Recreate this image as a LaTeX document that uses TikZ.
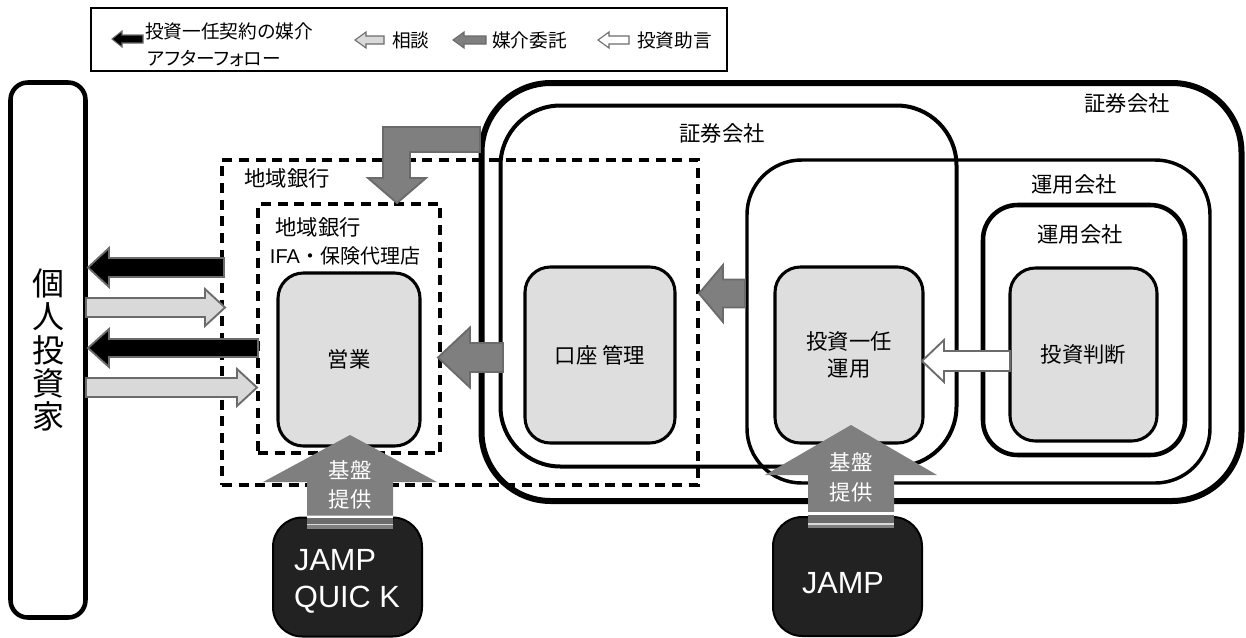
\documentclass[tikz,border=0pt]{standalone}
\usepackage{fontspec}
\setmainfont{Noto Sans CJK JP}
\newfontfamily\lat{Liberation Sans}
\newfontfamily\jpp[RawFeature=+palt]{Noto Sans CJK JP}
\definecolor{boxgray}{HTML}{DEDEDE}
\definecolor{edgegray}{HTML}{6B6B6B}
\definecolor{ltfill}{HTML}{D9D9D9}
\definecolor{midfill}{HTML}{7F7F7F}
\definecolor{darkbox}{HTML}{222222}
\newcommand\lblfont{\fontsize{16}{20}\selectfont}
\newcommand\legfont{\fontsize{14}{17}\selectfont}
% horizontal block arrow: style, tail x, head-base x, tip x, y, shaft half, head half
\newcommand\HArr[7]{\draw[#1] (#2,{#5-#6}) -- (#3,{#5-#6}) -- (#3,{#5-#7}) -- (#4,#5) -- (#3,{#5+#7}) -- (#3,{#5+#6}) -- (#2,{#5+#6}) -- cycle;}
% vertical block arrow: style, tail y, head-base y, tip y, x, shaft half, head half
\newcommand\VArr[7]{\fill[#1] ({#5-#6},#2) -- ({#5-#6},#3) -- ({#5-#7},#3) -- (#5,#4) -- ({#5+#7},#3) -- ({#5+#6},#3) -- ({#5+#6},#2) -- cycle;}
\begin{document}
\begin{tikzpicture}[x=0.75pt,y=-0.75pt,
  sz/.style 2 args={minimum width=#1*0.75pt, minimum height=#2*0.75pt},
  cont/.style={draw=black, rectangle, inner sep=0pt},
  dbox/.style={draw=black, line width=3pt, dash pattern=on 7.5pt off 5pt, rectangle, inner sep=0pt},
  gbox/.style={draw=black, fill=boxgray, line width=2.3pt, rounded corners=19pt, rectangle, inner sep=0pt, align=center, font=\lblfont},
  lbl/.style={inner sep=0pt, font=\lblfont},
  leg/.style={inner sep=0pt, font=\legfont, anchor=west},
  blkarr/.style={fill=black, draw=edgegray, line width=1.4pt},
  ltarr/.style={fill=ltfill, draw=edgegray, line width=1.4pt},
  midarr/.style={fill=midfill, draw=edgegray, line width=1.4pt},
  whtarr/.style={fill=white, draw=edgegray, line width=1.4pt},
  basearr/.style={fill=midfill},
  jbox/.style={draw=black, fill=darkbox, line width=1.5pt, rounded corners=22pt, rectangle, inner sep=0pt},
  jtext/.style={text=white, font=\lat\fontsize{23}{28}\selectfont, align=left, inner sep=0pt},
  btext/.style={text=white, font=\fontsize{16}{20}\selectfont, inner sep=0pt}
]
\useasboundingbox (0,0) rectangle (1246,637);

% legend
\node[draw=black, line width=0.8pt, rectangle, inner sep=0pt, sz={636}{63}] (legend) at (409,39.5) {};
\HArr{blkarr, line width=0.8pt}{143}{122}{112}{39}{4}{8}
\node[leg] (l1) at (145,31) {投資一任契約の媒介};
\node[leg] (l2) at (147,58) {\jpp アフターフォロー};
\HArr{ltarr, line width=0.8pt}{384}{366}{355}{40}{4}{8}
\node[leg] (l3) at (392,40) {相談};
\HArr{midarr, line width=0.8pt}{486}{464}{453}{40}{4}{8}
\node[leg] (l4) at (492,40) {媒介委託};
\HArr{whtarr, line width=0.8pt}{629}{609}{598}{40}{4}{8}
\node[leg] (l5) at (637,40) {投資助言};

% individual investor
\node[cont, sz={75}{535}, line width=3.4pt, rounded corners=13pt, align=center,
      font=\fontsize{24}{25}\selectfont] (kojin) at (48,350) {個\\人\\投\\資\\家};

% securities / management companies
\node[cont, sz={760}{418}, line width=4.5pt, rounded corners=52pt] (sec1) at (861.5,292) {};
\node[cont, sz={456}{361}, line width=3pt, rounded corners=45pt] (sec2) at (728.5,286) {};
\node[cont, sz={463}{323}, line width=2.6pt, rounded corners=41pt] (un1) at (978.5,321.5) {};
\node[cont, sz={202}{250}, line width=3.4pt, rounded corners=26pt] (un2) at (1084,330) {};
\node[lbl] (sec1l) at (1127,103) {証券会社};
\node[lbl] (sec2l) at (722,133) {証券会社};
\node[lbl] (un1l) at (1074,184) {運用会社};
\node[lbl] (un2l) at (1080,234) {運用会社};

% regional bank (dashed)
\node[dbox, sz={476}{325}] (bank1) at (460,322.5) {};
\node[dbox, sz={182}{249}] (bank2) at (349,328.5) {};
\node[lbl] (bank1l) at (287,178) {地域銀行};
\node[lbl] (bank2l) at (318,227) {地域銀行};
\node[inner sep=0pt, font=\fontsize{15}{18}\selectfont] (ifal) at (345,256) {{\lat IFA}・保険代理店};

% function boxes
\node[gbox, sz={142}{173}] (eigyo) at (349,359.5) {営業};
\node[gbox, sz={150}{176}] (koza) at (600,355) {口座 管理};
\node[gbox, sz={148}{176}] (toshi) at (849,355) {投資一任\\運用};
\node[gbox, sz={147}{173}] (handan) at (1083.5,354.5) {投資判断};

% JAMP boxes
\node[jbox, sz={149}{119}] (jq) at (347.5,577) {};
\node[jbox, sz={149}{119}] (jm) at (847.5,576.5) {};
\node[jtext] (jqt) at (347,581.5) {JAMP\\QUIC K};
\node[jtext] (jmt) at (843,583) {JAMP};

% arrows to/from investor
\HArr{blkarr}{224}{109}{88}{267.5}{9.5}{19.5}
\HArr{ltarr}{86}{205}{225}{307.5}{9.5}{18.5}
\HArr{blkarr}{258}{109}{88}{348}{9}{19}
\HArr{ltarr}{86}{237}{257}{387.5}{9.5}{18.5}

% arrows between boxes
\HArr{midarr}{503}{470}{438}{357.5}{14.5}{30}
\HArr{midarr}{745}{723}{699}{293.5}{14}{28.5}
\HArr{whtarr}{1010}{944}{922}{361}{10}{21}

% L-shaped arrow
\draw[midarr] (480,127) -- (383,127) -- (383,178) -- (368,178) -- (397,203) -- (426,178) -- (410,178) -- (410,152) -- (480,152) -- cycle;

% base provision arrows
\VArr{basearr}{515.5}{482}{435}{350}{43}{87}
\fill[white] (307,515.5) rectangle (393,517.5);
\fill[midfill!85!black] (307,517.5) rectangle (393,523.5);
\fill[ltfill] (307,523.5) rectangle (393,525);
\fill[midfill] (307,525) rectangle (393,528.5);
\node[btext] (k1) at (350,470) {基盤};
\node[btext] (k2) at (350,499) {提供};

\VArr{basearr}{512}{475}{425}{851}{43}{86}
\fill[white] (808,512) rectangle (894,515);
\fill[midfill!85!black] (808,515) rectangle (894,523);
\fill[ltfill] (808,523) rectangle (894,524.5);
\fill[midfill] (808,524.5) rectangle (894,527.5);
\node[btext] (k3) at (851,462) {基盤};
\node[btext] (k4) at (851,492) {提供};
\end{tikzpicture}
\end{document}
